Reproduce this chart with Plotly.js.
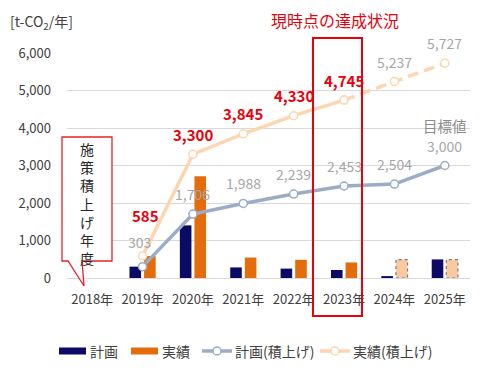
<!DOCTYPE html>
<html>
<head>
<meta charset="utf-8">
<script src="https://cdn.plot.ly/plotly-3.0.1.min.js"></script>
<style>html,body{margin:0;padding:0;background:#fff;}#chart{width:485px;height:372px;}</style>
</head>
<body>
<div id="chart"></div>
<script>
// ---- data ----
const years = ['2018年','2019年','2020年','2021年','2022年','2023年','2024年','2025年'];
const planAnnual = [null, 303, 1403, 282, 251, 214, 51, 496];
const actualAnnual = [null, 585, 2715, 545, 485, 415, 492, 490];
const planCum = [null, 303, 1706, 1988, 2239, 2453, 2504, 3000];
const actualCum = [null, 585, 3300, 3845, 4330, 4745, 5237, 5727];
const currentYear = '2023年';
const yTicks = [0, 1000, 2000, 3000, 4000, 5000, 6000];
const yTickText = ['0', '1,000', '2,000', '3,000', '4,000', '5,000', '6,000'];
const legendNames = ['計画', '実績', '計画(積上げ)', '実績(積上げ)'];

// ---- layout helpers ----
const W = 485, H = 372;
const M = {l: 67, r: 15, t: 53, b: 94};
const pw = W - M.l - M.r, ph = H - M.t - M.b;
const px = x => (x - M.l) / pw;
const py = y => (H - M.b - y) / ph;
const font = '"Noto Sans CJK JP", "Noto Sans", sans-serif';
const fmt = v => v.toLocaleString('en-US');

const curIdx = years.indexOf(currentYear);
const NAVY = '#0b0b66', ORANGE = '#e46c0a', LIGHTOR = '#f9c9a0';
const PLANLINE = '#9cacc7', ACTLINE = '#fbd6b0';
const RED = '#e8000b';

const actColors = years.map((y, i) => i <= curIdx ? ORANGE : LIGHTOR);

// split cumulative actual into achieved (solid) and projected (dashed)
const actCumSolid = actualCum.map((v, i) => i <= curIdx ? v : null);
const actCumDash = actualCum.map((v, i) => i >= curIdx ? v : null);

const traces = [
  {x: years, y: planAnnual, type: 'bar', name: legendNames[0],
   marker: {color: NAVY}, width: 0.23, offset: -0.26},
  {x: years, y: actualAnnual, type: 'bar', name: legendNames[1],
   marker: {color: actColors}, width: 0.23, offset: 0.03},
  {x: years, y: planCum, type: 'scatter', mode: 'lines+markers', name: legendNames[2],
   line: {color: PLANLINE, width: 3.5}, cliponaxis: false,
   marker: {symbol: 'circle', size: 8, color: '#fff', line: {color: PLANLINE, width: 1.5}}},
  {x: years, y: actCumDash, type: 'scatter', mode: 'lines+markers', name: legendNames[3],
   line: {color: ACTLINE, width: 3.5, dash: '11px,6px'}, cliponaxis: false,
   marker: {symbol: 'circle', size: 8, color: '#fff', line: {color: ACTLINE, width: 1.5}}},
  {x: years, y: actCumSolid, type: 'scatter', mode: 'lines+markers', name: legendNames[3],
   line: {color: ACTLINE, width: 3.5}, cliponaxis: false,
   marker: {symbol: 'circle', size: 8, color: '#fff', line: {color: ACTLINE, width: 1.5}}}
];

// label offsets (style only)
const planShift = {1: [-3, 25]};
const actShift = {1: [3, 41]};

const annotations = [];
planCum.forEach((v, i) => {
  if (v == null) return;
  const s = planShift[i] || [0, 20];
  annotations.push({x: years[i], y: v, xref: 'x', yref: 'y', text: fmt(v), showarrow: false,
    xanchor: 'center', yanchor: 'middle',
    xshift: s[0], yshift: s[1], font: {family: font, size: 14, color: '#a6a6a6'}});
});
actualCum.forEach((v, i) => {
  if (v == null) return;
  const s = actShift[i] || [0, 20];
  const achieved = i <= curIdx;
  annotations.push({x: years[i], y: v, xref: 'x', yref: 'y',
    text: achieved ? '<b>' + fmt(v) + '</b>' : fmt(v), showarrow: false,
    xanchor: 'center', yanchor: 'middle',
    xshift: s[0], yshift: s[1],
    font: {family: font, size: achieved ? 15 : 14, color: achieved ? RED : '#a6a6a6'}});
});
// target label
annotations.push({x: years[years.length - 1], y: planCum[planCum.length - 1], xref: 'x', yref: 'y',
  text: '目標値', showarrow: false, xanchor: 'center', yanchor: 'bottom', yshift: 28,
  font: {family: font, size: 14.5, color: '#8c8c8c'}});
// title
annotations.push({x: px(335), y: py(20), xref: 'paper', yref: 'paper', text: '現時点の達成状況',
  showarrow: false, xanchor: 'center', yanchor: 'middle', font: {family: font, size: 16, color: RED}});
// unit
annotations.push({x: px(8), y: py(22), xref: 'paper', yref: 'paper', xanchor: 'left', yanchor: 'middle',
  text: '[t-CO<sub>2</sub>/年]', showarrow: false, font: {family: font, size: 14, color: '#404040'}});
// callout text
annotations.push({x: px(87), y: py(203), xref: 'paper', yref: 'paper', xanchor: 'center', yanchor: 'middle',
  text: '施策積上げ年度'.split('').join('<br>'), showarrow: false,
  font: {family: font, size: 14, color: '#262626'}});

const shapes = [];
// dashed outline for projected actual bars
actualAnnual.forEach((v, i) => {
  if (v == null || i <= curIdx) return;
  shapes.push({type: 'rect', xref: 'x', yref: 'y', x0: i + 0.03, x1: i + 0.26, y0: 0, y1: v,
    line: {color: '#7f7f7f', width: 1.2, dash: 'dot'}, fillcolor: 'rgba(0,0,0,0)', layer: 'above'});
});
// highlight box around current year
shapes.push({type: 'rect', xref: 'paper', yref: 'paper', x0: px(313), x1: px(362), y0: py(316), y1: py(38),
  line: {color: RED, width: 2}, fillcolor: 'rgba(0,0,0,0)', layer: 'above'});
// callout box with pointer
const cp = [[62,137],[112,137],[112,261],[82,261],[84,286],[68,261],[62,261]];
shapes.push({type: 'path', xref: 'paper', yref: 'paper',
  path: 'M' + cp.map(p => px(p[0]) + ',' + py(p[1])).join(' L') + ' Z',
  line: {color: '#e5232b', width: 1.3}, fillcolor: '#ffffff', layer: 'above'});

// ---- custom legend (bottom) ----
const legY = 351;
const legendItems = [
  {kind: 'rect', color: NAVY, x0: 59, x1: 86, tx: 88, name: legendNames[0]},
  {kind: 'rect', color: ORANGE, x0: 131, x1: 158, tx: 160, name: legendNames[1]},
  {kind: 'line', color: PLANLINE, x0: 202, x1: 232, tx: 233, name: legendNames[2]},
  {kind: 'line', color: ACTLINE, x0: 320, x1: 350, tx: 351, name: legendNames[3]}
];
legendItems.forEach(it => {
  if (it.kind === 'rect') {
    shapes.push({type: 'rect', xref: 'paper', yref: 'paper', x0: px(it.x0), x1: px(it.x1),
      y0: py(legY + 3.5), y1: py(legY - 3.5), fillcolor: it.color, line: {width: 0}});
  } else {
    shapes.push({type: 'line', xref: 'paper', yref: 'paper', x0: px(it.x0), x1: px(it.x1),
      y0: py(legY), y1: py(legY), line: {color: it.color, width: 3.5}});
    const cx = px((it.x0 + it.x1) / 2), cy = py(legY);
    shapes.push({type: 'circle', xref: 'paper', yref: 'paper', xsizemode: 'pixel', ysizemode: 'pixel',
      xanchor: cx, yanchor: cy, x0: -4, x1: 4, y0: -4, y1: 4,
      fillcolor: '#fff', line: {color: it.color, width: 1.5}});
  }
  annotations.push({x: px(it.tx), y: py(legY), xref: 'paper', yref: 'paper', xanchor: 'left', yanchor: 'middle',
    text: it.name, showarrow: false, font: {family: font, size: 14, color: '#404040'}});
});

const layout = {
  width: W, height: H,
  margin: M,
  paper_bgcolor: '#fff', plot_bgcolor: '#fff',
  font: {family: font, size: 13, color: '#404040'},
  barmode: 'overlay',
  showlegend: false,
  xaxis: {type: 'category', categoryorder: 'array', categoryarray: years, range: [-0.5, 7.5],
    showgrid: false, showline: false, zeroline: false, ticks: '', ticklabelstandoff: 12,
    tickfont: {family: font, size: 13, color: '#404040'}, fixedrange: true, automargin: false},
  yaxis: {range: [0, 6000], tickvals: yTicks, ticktext: yTickText, showgrid: true,
    gridcolor: '#d9d9d9', gridwidth: 1, zeroline: true, zerolinecolor: '#d9d9d9', zerolinewidth: 1,
    showline: false, ticks: '', ticklabelstandoff: 15,
    tickfont: {family: font, size: 13, color: '#404040'}, fixedrange: true, automargin: false},
  annotations: annotations,
  shapes: shapes
};

Plotly.newPlot('chart', traces, layout, {displayModeBar: false, staticPlot: true});
</script>
</body>
</html>
